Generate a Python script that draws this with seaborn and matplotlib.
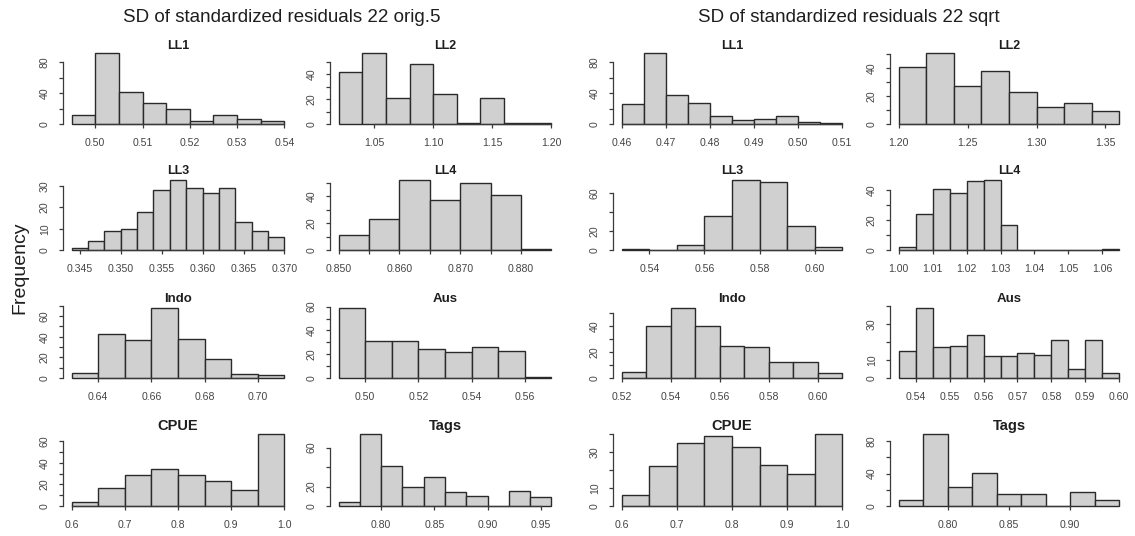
import numpy as np
import pandas as pd
import matplotlib
matplotlib.use("Agg")
import matplotlib.pyplot as plt
import seaborn as sns

# ---------------------------------------------------------------------------
# Histogram counts of the SD of standardized residuals (run 22)
# Each panel: first break, bin width, counts per bin, axis tick labels
# ---------------------------------------------------------------------------
panel_names = ["LL1", "LL2", "LL3", "LL4", "Indo", "Aus", "CPUE", "Tags"]

# --- orig.5 -----------------------------------------------------------------
orig_start = [0.495, 1.02, 0.344, 0.850, 0.63, 0.49, 0.60, 0.76]
orig_width = [0.005, 0.02, 0.002, 0.005, 0.01, 0.01, 0.05, 0.02]

orig_LL1 = [12, 92, 41, 27, 19, 4, 12, 6, 4]
orig_LL2 = [42, 57, 21, 48, 24, 1, 21, 1, 1]
orig_LL3 = [1, 4, 9, 10, 18, 28, 33, 29, 27, 29, 13, 9, 6]
orig_LL4 = [11, 23, 52, 37, 50, 41, 1]
orig_Indo = [5, 43, 37, 68, 38, 18, 4, 3]
orig_Aus = [59, 31, 31, 24, 22, 26, 23, 1]
orig_CPUE = [4, 17, 29, 34, 29, 23, 15, 67]
orig_Tags = [4, 74, 41, 20, 30, 14, 10, 0, 15, 9]

orig_xlabels = [
    ["0.50", "0.51", "0.52", "0.53", "0.54"],
    ["1.05", "1.10", "1.15", "1.20"],
    ["0.345", "0.350", "0.355", "0.360", "0.365", "0.370"],
    ["0.850", "0.860", "0.870", "0.880"],
    ["0.64", "0.66", "0.68", "0.70"],
    ["0.50", "0.52", "0.54", "0.56"],
    ["0.6", "0.7", "0.8", "0.9", "1.0"],
    ["0.80", "0.85", "0.90", "0.95"],
]
orig_xminor = [[], [], [], [0.855, 0.865, 0.875], [], [], [], []]

orig_yticks = [
    [0, 20, 40, 60, 80],
    [0, 10, 20, 30, 40, 50],
    [0, 10, 20, 30],
    [0, 10, 20, 30, 40, 50],
    [0, 10, 20, 30, 40, 50, 60, 70],
    [0, 10, 20, 30, 40, 50, 60],
    [0, 10, 20, 30, 40, 50, 60],
    [0, 20, 40, 60],
]
orig_ylabels = [
    [0, 40, 80],
    [0, 20, 40],
    [0, 10, 20, 30],
    [0, 20, 40],
    [0, 20, 40, 60],
    [0, 20, 40, 60],
    [0, 20, 40, 60],
    [0, 20, 60],
]

# --- sqrt -------------------------------------------------------------------
sqrt_start = [0.46, 1.20, 0.53, 1.000, 0.52, 0.535, 0.60, 0.76]
sqrt_width = [0.005, 0.02, 0.01, 0.005, 0.01, 0.005, 0.05, 0.02]

sqrt_LL1 = [26, 92, 37, 27, 10, 5, 7, 10, 3, 1]
sqrt_LL2 = [41, 51, 27, 38, 23, 12, 15, 9]
sqrt_LL3 = [1, 0, 5, 36, 74, 72, 25, 3]
sqrt_LL4 = [2, 24, 41, 38, 46, 47, 17, 0, 0, 0, 0, 0, 1]
sqrt_Indo = [5, 40, 54, 40, 25, 24, 12, 12, 4]
sqrt_Aus = [15, 39, 17, 18, 24, 12, 12, 14, 13, 21, 5, 21, 3]
sqrt_CPUE = [6, 22, 35, 39, 33, 23, 18, 40]
sqrt_Tags = [8, 89, 24, 41, 15, 15, 0, 17, 8]

sqrt_xlabels = [
    ["0.46", "0.47", "0.48", "0.49", "0.50", "0.51"],
    ["1.20", "1.25", "1.30", "1.35"],
    ["0.54", "0.56", "0.58", "0.60"],
    ["1.00", "1.01", "1.02", "1.03", "1.04", "1.05", "1.06"],
    ["0.52", "0.54", "0.56", "0.58", "0.60"],
    ["0.54", "0.55", "0.56", "0.57", "0.58", "0.59", "0.60"],
    ["0.6", "0.7", "0.8", "0.9", "1.0"],
    ["0.80", "0.85", "0.90"],
]
sqrt_xminor = [[], [], [], [], [], [], [], []]

sqrt_yticks = [
    [0, 20, 40, 60, 80],
    [0, 10, 20, 30, 40, 50],
    [0, 20, 40, 60],
    [0, 10, 20, 30, 40],
    [0, 10, 20, 30, 40, 50],
    [0, 10, 20, 30, 40],
    [0, 10, 20, 30, 40],
    [0, 20, 40, 60, 80],
]
sqrt_ylabels = [
    [0, 40, 80],
    [0, 20, 40],
    [0, 20, 60],
    [0, 20, 40],
    [0, 20, 40],
    [0, 10, 30],
    [0, 10, 30],
    [0, 40, 80],
]

orig_counts = [orig_LL1, orig_LL2, orig_LL3, orig_LL4,
               orig_Indo, orig_Aus, orig_CPUE, orig_Tags]
sqrt_counts = [sqrt_LL1, sqrt_LL2, sqrt_LL3, sqrt_LL4,
               sqrt_Indo, sqrt_Aus, sqrt_CPUE, sqrt_Tags]

group_titles = ["SD of standardized residuals 22 orig.5",
                "SD of standardized residuals 22 sqrt"]

# ---------------------------------------------------------------------------
# Styling and layout
# ---------------------------------------------------------------------------
sns.set_theme(style="white")
plt.rcParams["font.family"] = ["Liberation Sans", "DejaVu Sans"]

BAR_FILL = "#d0d0d0"
BAR_EDGE = "#2a2a2a"
AXIS_COL = "#3a3a3a"
TEXT_COL = "#454545"

W, H = 1135, 536
col_px = [(63, 293), (330, 560), (613, 851), (890, 1128)]
row_px = [(50, 124), (177, 250), (305, 378), (431, 506)]
title_y = [1.054, 1.082, 1.082, 1.067]
title_size = [9.0, 9.0, 9.5, 10.5]

fig = plt.figure(figsize=(W / 100, H / 100), dpi=100)
fig.patch.set_facecolor("white")


def draw_panel(ax, name, start, width, counts, xlabels, xminor,
               yticks, ylabels, row):
    counts = np.asarray(counts, dtype=int)
    edges = np.round(start + width * np.arange(len(counts) + 1), 6)
    centers = (edges[:-1] + edges[1:]) / 2
    # one observation per counted replicate, placed at its bin centre
    df = pd.DataFrame({"value": np.repeat(centers, counts)})

    sns.histplot(data=df, x="value", bins=[float(e) for e in edges],
                 stat="count", ax=ax, color=BAR_FILL, edgecolor=BAR_EDGE,
                 linewidth=1.0, alpha=1.0)
    for patch in ax.patches:
        patch.set_clip_on(False)

    span = edges[-1] - edges[0]
    ax.set_xlim(edges[0] - 0.04 * span, edges[-1] + 0.04 * span)
    top = counts.max()
    ax.set_ylim(0, 1.04 * top)

    xvals = [float(s) for s in xlabels]
    ax.set_xticks(xvals)
    ax.set_xticklabels(xlabels)
    if xminor:
        ax.set_xticks(xminor, minor=True)
    ax.set_yticks(yticks)
    ax.set_yticklabels([str(v) if v in ylabels else "" for v in yticks],
                       rotation=90, va="center", ha="right")

    for side in ("top", "right"):
        ax.spines[side].set_visible(False)
    ax.spines["left"].set_bounds(yticks[0], yticks[-1])
    bx = sorted(xvals + list(xminor))
    ax.spines["bottom"].set_bounds(bx[0], bx[-1])
    for side in ("left", "bottom"):
        ax.spines[side].set_color(AXIS_COL)
        ax.spines[side].set_linewidth(0.9)

    ax.tick_params(axis="both", which="both", direction="out", length=3.2,
                   width=0.9, color=AXIS_COL, labelsize=7.6,
                   labelcolor=TEXT_COL, bottom=True, left=True)
    ax.tick_params(axis="x", which="both", pad=7.2)
    ax.tick_params(axis="y", which="both", pad=6.2)
    ax.set_xlabel("")
    ax.set_ylabel("")
    ax.set_facecolor("white")
    ax.text(0.5, title_y[row], name, transform=ax.transAxes, ha="center",
            va="center", fontsize=title_size[row], fontweight="bold",
            color="#1e1e1e", clip_on=False, zorder=5)


groups = [
    (orig_start, orig_width, orig_counts, orig_xlabels, orig_xminor,
     orig_yticks, orig_ylabels),
    (sqrt_start, sqrt_width, sqrt_counts, sqrt_xlabels, sqrt_xminor,
     sqrt_yticks, sqrt_ylabels),
]

for g, (starts, widths, counts, xlabs, xmin, yts, ylabs) in enumerate(groups):
    for i, name in enumerate(panel_names):
        row, col = i // 2, 2 * g + i % 2
        x0, x1 = col_px[col]
        y0, y1 = row_px[row]
        ax = fig.add_axes([x0 / W, 1 - y1 / H, (x1 - x0) / W, (y1 - y0) / H])
        draw_panel(ax, name, starts[i], widths[i], counts[i], xlabs[i],
                   xmin[i], yts[i], ylabs[i], row)

fig.text(282 / W, 1 - 17 / H, group_titles[0], ha="center", va="center",
         fontsize=13.5, color="#1e1e1e")
fig.text(849 / W, 1 - 17 / H, group_titles[1], ha="center", va="center",
         fontsize=13.5, color="#1e1e1e")
fig.text(20 / W, 1 - 268 / H, "Frequency", rotation=90, ha="center",
         va="center", fontsize=14, color="#1e1e1e")

fig.savefig("out.png", dpi=100, facecolor="white")
